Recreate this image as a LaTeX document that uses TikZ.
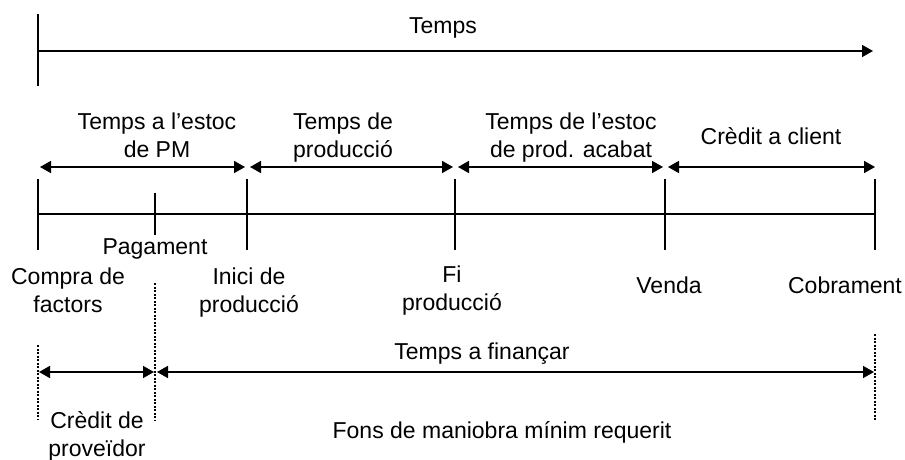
\documentclass[tikz,border=0pt]{standalone}
\usepackage{fontspec}
\setmainfont{Liberation Sans}
\usetikzlibrary{arrows.meta}
\begin{document}
\begin{tikzpicture}[x=1pt,y=-1pt,
  axis/.style={line width=1.6pt},
  dbl/.style={line width=1.6pt,{Triangle[length=11pt,width=12pt]}-{Triangle[length=11pt,width=12pt]}},
  single/.style={line width=1.6pt,-{Triangle[length=11pt,width=12pt]}},
  guide/.style={line width=1.2pt,dash pattern=on 2pt off 1.5pt},
  lbl/.style={font={\fontsize{23}{27.5}\selectfont},inner sep=0pt,align=center,anchor=base}]
\useasboundingbox (0,0) rectangle (905,460);
% top time axis
\coordinate (T0top) at (38,14);
\coordinate (T0bot) at (38,86);
\coordinate (T0) at (38,51);
\coordinate (T1) at (873,51);
\draw[axis] (T0top) -- (T0bot);
\draw[single] (T0) -- (T1);
\node[lbl] (temps) at (443,34) {Temps};
% main timeline
\coordinate (L0) at (38,214);
\coordinate (L1) at (875,214);
\draw[axis] (L0) -- (L1);
\foreach \n/\x in {A/38,C/247,D/455,E/665,F/875}{
  \coordinate (\n top) at (\x,179);
  \coordinate (\n bot) at (\x,250);
  \draw[axis] (\n top) -- (\n bot);
}
\coordinate (Btop) at (155,193);
\coordinate (Bbot) at (155,235);
\draw[axis] (Btop) -- (Bbot);
% interval arrows
\coordinate (a1) at (40,167);  \coordinate (a2) at (245,167);
\coordinate (b1) at (250,167); \coordinate (b2) at (453,167);
\coordinate (c1) at (458,167); \coordinate (c2) at (663,167);
\coordinate (d1) at (668,167); \coordinate (d2) at (875,167);
\draw[dbl] (a1) -- (a2);
\draw[dbl] (b1) -- (b2);
\draw[dbl] (c1) -- (c2);
\draw[dbl] (d1) -- (d2);
\node[lbl] (estocpm) at (157,157) {Temps a l’estoc\\de PM};
\node[lbl] (prod) at (343,157) {Temps de\\producció};
\node[lbl] (estocpa) at (571,157) {Temps de l’estoc\\de prod. acabat};
\node[lbl] (credclient) at (771,144) {Crèdit a client};
% event labels
\node[lbl] (pagament) at (155,254) {Pagament};
\node[lbl] (compra) at (68,312) {Compra de\\factors};
\node[lbl] (inici) at (249,312) {Inici de\\producció};
\node[lbl] (fi) at (452,310) {Fi\\producció};
\node[lbl] (venda) at (669,293) {Venda};
\node[lbl] (cobrament) at (845,293) {Cobrament};
% financing
\coordinate (g0top) at (38,345);   \coordinate (g0bot) at (38,420);
\coordinate (g1top) at (155,283);  \coordinate (g1bot) at (155,420);
\coordinate (g2top) at (875,334);  \coordinate (g2bot) at (875,420);
\draw[guide] (g0top) -- (g0bot);
\draw[guide] (g1top) -- (g1bot);
\draw[guide] (g2top) -- (g2bot);
\coordinate (e1) at (39,372);  \coordinate (e2) at (154,372);
\coordinate (f1) at (157,372); \coordinate (f2) at (874,372);
\draw[dbl] (e1) -- (e2);
\draw[dbl] (f1) -- (f2);
\node[lbl] (financar) at (482,359) {Temps a finançar};
\node[lbl] (credprov) at (97,456) {Crèdit de\\proveïdor};
\node[lbl] (fons) at (502,438) {Fons de maniobra mínim requerit};
\end{tikzpicture}
\end{document}
